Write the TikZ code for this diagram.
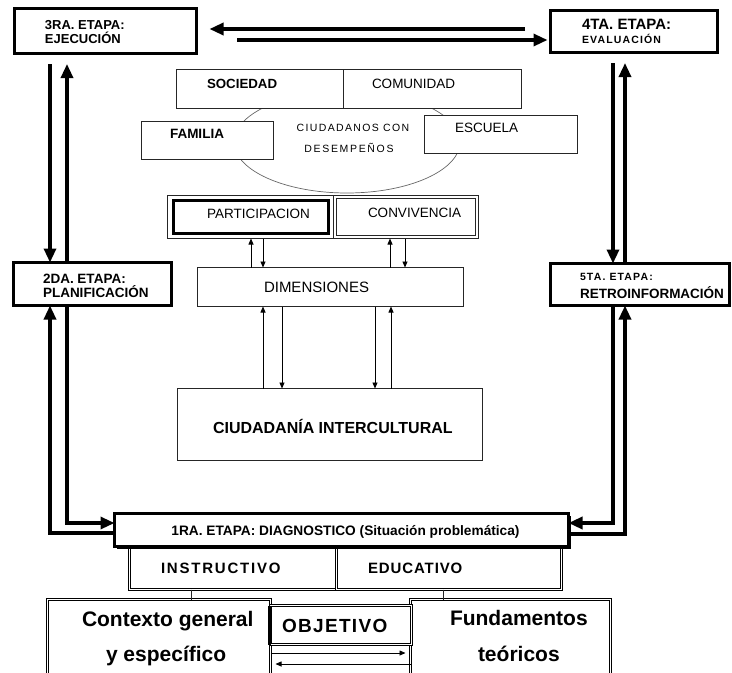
\documentclass[tikz,border=0pt]{standalone}
\usepackage{fontspec}
\setmainfont{Liberation Sans}
\usetikzlibrary{arrows.meta,calc,shadows}
\begin{document}
\begin{tikzpicture}[x=1pt,y=-1pt,
  every node/.style={outer sep=0pt},
  stage/.style={draw, line width=3pt, fill=white, anchor=north west, inner sep=0pt},
  thinbox/.style={draw=black!85, line width=0.9pt, fill=white, anchor=north west, inner sep=0pt},
  dblbox/.style={draw, double, double distance=1.8pt, line width=0.6pt, fill=white, anchor=north west, inner sep=0pt},
  big/.style={line width=3.2pt, line join=miter, -{Triangle[length=14pt,width=12pt]}},
  small/.style={line width=0.8pt, -{Triangle[length=6pt,width=5pt]}},
  txt/.style={inner sep=0pt, anchor=base west},
  ctxt/.style={inner sep=0pt, anchor=base},
]
\useasboundingbox (0,0) rectangle (732,673);
\clip (0,0) rectangle (732,673);

% helper columns and rows
\coordinate (cL1) at (50,0);  \coordinate (cL2) at (67,0);
\coordinate (cR1) at (613,0); \coordinate (cR2) at (625,0);
\coordinate (cA) at (251,0);  \coordinate (cB) at (263,0);
\coordinate (cC) at (390,0);  \coordinate (cD) at (405,0);
\coordinate (cE) at (263,0);  \coordinate (cF) at (282,0);
\coordinate (cG) at (375,0);  \coordinate (cH) at (391,0);
\coordinate (cI) at (191,0);  \coordinate (cJ) at (443,0);
\coordinate (rTop) at (0,64); \coordinate (rTopR) at (0,63);
\coordinate (rA) at (0,523);  \coordinate (rB) at (0,533);
\coordinate (rRa) at (0,523); \coordinate (rRb) at (0,534);
\coordinate (rO1) at (0,653); \coordinate (rO2) at (0,664);
\coordinate (u1) at (525,29); \coordinate (v1) at (237,40);

% ellipse behind the middle boxes
\draw[black!60, line width=0.7pt] (347,142) ellipse [x radius=113, y radius=51];

% middle cluster
\node[thinbox, minimum width=166.5pt, minimum height=39pt] (socA) at (176.5,69.5) {};
\node[thinbox, minimum width=178.5pt, minimum height=39pt] (socB) at (343,69.5) {};
\node[thinbox, minimum width=132pt, minimum height=38pt] (fam) at (141.5,121.5) {};
\node[thinbox, minimum width=153pt, minimum height=38pt] (esc) at (424.5,115.5) {};

\node[txt, font=\fontsize{13.3}{15}\selectfont\bfseries] (tsoc) at (207,88) {SOCIEDAD};
\node[txt, font=\fontsize{13.5}{15}\selectfont] (tcom) at (372,88) {COMUNIDAD};
\node[txt, font=\fontsize{13.5}{15}\selectfont\bfseries] (tfam) at (170,138) {FAMILIA};
\node[txt, font=\fontsize{13.5}{15}\selectfont] (tesc) at (455,132) {ESCUELA};
\node[ctxt, font=\fontsize{10.5}{12}\selectfont\addfontfeatures{LetterSpace=13}] (tciu1) at (353,131) {CIUDADANOS CON};
\node[ctxt, font=\fontsize{10.5}{12}\selectfont\addfontfeatures{LetterSpace=16}] (tciu2) at (349,152) {DESEMPEÑOS};

\node[thinbox, minimum width=165.5pt, minimum height=43pt] (partO) at (167.5,195.5) {};
\node[thinbox, minimum width=145.5pt, minimum height=43pt] (convO) at (333,195.5) {};
\node[stage, minimum width=155pt, minimum height=33pt] (partI) at (173.5,200.5) {};
\node[thinbox, line width=1.2pt, minimum width=139pt, minimum height=37pt] (convI) at (336.5,198.5) {};
\node[txt, font=\fontsize{13.5}{15}\selectfont] (tpart) at (207,218) {PARTICIPACION};
\node[txt, font=\fontsize{13.5}{15}\selectfont] (tconv) at (368,217) {CONVIVENCIA};

\node[thinbox, minimum width=266pt, minimum height=39pt] (dim) at (197.5,267.5) {};
\node[txt, font=\fontsize{15}{17}\selectfont] (tdim) at (264,292) {DIMENSIONES};

\node[thinbox, minimum width=305pt, minimum height=72pt] (ciu) at (177.5,388.5) {};
\node[txt, font=\fontsize{16}{18}\selectfont\bfseries] (tciud) at (213,433) {CIUDADANÍA INTERCULTURAL};

% small arrows
\draw[small] (dim.north -| cA) -- (partO.south -| cA);
\draw[small] (partO.south -| cB) -- (dim.north -| cB);
\draw[small] (dim.north -| cC) -- (convO.south -| cC);
\draw[small] (convO.south -| cD) -- (dim.north -| cD);
\draw[small] (ciu.north -| cE) -- (dim.south -| cE);
\draw[small] (dim.south -| cF) -- (ciu.north -| cF);
\draw[small] (dim.south -| cG) -- (ciu.north -| cG);
\draw[small] (ciu.north -| cH) -- (dim.south -| cH);

% bottom boxes
\node[dblbox, minimum width=207pt, minimum height=42pt] (instr) at (129.5,547.5) {};
\node[dblbox, minimum width=225pt, minimum height=42pt] (edu) at (336.5,547.5) {};
\node[txt, font=\fontsize{15}{17}\selectfont\bfseries\addfontfeatures{LetterSpace=12}] (tins) at (161,573) {INSTRUCTIVO};
\node[txt, font=\fontsize{15}{17}\selectfont\bfseries\addfontfeatures{LetterSpace=6}] (tedu) at (368,573) {EDUCATIVO};

\node[dblbox, minimum width=223pt, minimum height=100pt] (ctx) at (47.5,599.5) {};
\node[dblbox, minimum width=200pt, minimum height=100pt] (fund) at (410.5,599.5) {};
\node[dblbox, minimum width=141pt, minimum height=39pt] (obj) at (270.5,605.5) {};
\draw[line width=2.6pt] ([xshift=-1pt]obj.north west) -- ([xshift=-1pt]obj.south west);

\node[txt, font=\fontsize{21}{24}\selectfont\bfseries] (tctx1) at (82,626) {Contexto general};
\node[txt, font=\fontsize{21}{24}\selectfont\bfseries] (tctx2) at (106,661) {y específico};
\node[txt, font=\fontsize{19}{22}\selectfont\bfseries\addfontfeatures{LetterSpace=7}] (tobj) at (282,632) {OBJETIVO};
\node[txt, font=\fontsize{21}{24}\selectfont\bfseries] (tfun1) at (450,625) {Fundamentos};
\node[txt, font=\fontsize{21}{24}\selectfont\bfseries] (tfun2) at (478,661) {teóricos};

\draw[black!85, line width=0.9pt] (instr.south -| cI) -- (ctx.north -| cI);
\draw[black!85, line width=0.9pt] (edu.south -| cJ) -- (fund.north -| cJ);
\draw[small, shorten >=5pt] (ctx.east |- rO1) -- (fund.west |- rO1);
\draw[small, shorten >=5pt] (fund.west |- rO2) -- (ctx.east |- rO2);

% stage boxes
\node[stage, minimum width=182pt, minimum height=45pt] (s3) at (14.5,8.5) {};
\node[stage, minimum width=167pt, minimum height=42pt] (s4) at (550.5,10.5) {};
\node[stage, minimum width=158pt, minimum height=43pt] (s2) at (13.5,262.5) {};
\node[stage, minimum width=179pt, minimum height=42pt] (s5) at (550.5,263.5) {};
\node[stage, minimum width=454pt, minimum height=33pt,
      drop shadow={shadow xshift=2pt, shadow yshift=-2.5pt, fill=black, opacity=1}] (s1) at (114.5,513.5) {};

\node[txt, font=\fontsize{13}{15}\selectfont\bfseries] (t3a) at (45,29.5) {3RA. ETAPA:};
\node[txt, font=\fontsize{13}{15}\selectfont\bfseries] (t3b) at (45,43) {EJECUCIÓN};
\node[txt, font=\fontsize{15}{17}\selectfont\bfseries] (t4a) at (582,29) {4TA. ETAPA:};
\node[txt, font=\fontsize{10.5}{12}\selectfont\bfseries\addfontfeatures{LetterSpace=11}] (t4b) at (582,43.5) {EVALUACIÓN};
\node[txt, font=\fontsize{13.5}{15}\selectfont\bfseries] (t2a) at (43,283) {2DA. ETAPA:};
\node[txt, font=\fontsize{13.5}{15}\selectfont\bfseries] (t2b) at (43,297) {PLANIFICACIÓN};
\node[txt, font=\fontsize{10.5}{12}\selectfont\bfseries\addfontfeatures{LetterSpace=11}] (t5a) at (580,280) {5TA. ETAPA:};
\node[txt, font=\fontsize{13.5}{15}\selectfont\bfseries] (t5b) at (580,298) {RETROINFORMACIÓN};
\node[ctxt, font=\fontsize{13.7}{15}\selectfont\bfseries] (t1) at (345.5,535) {1RA. ETAPA: DIAGNOSTICO (Situación problemática)};

% big arrows
\draw[big, shorten >=13pt] (u1) -- (s3.east |- u1);
\draw[big, shorten >=3pt] (v1) -- (s4.west |- v1);
\draw[big] (cL1 |- rTop) -- (s2.north -| cL1);
\draw[big] (s2.north -| cL2) -- (cL2 |- rTop);
\draw[big] (cR1 |- rTopR) -- (s5.north -| cR1);
\draw[big] (s5.north -| cR2) -- (cR2 |- rTopR);
\draw[big] (s1.west |- rB) -| (s2.south -| cL1);
\draw[big] (s2.south -| cL2) |- (s1.west |- rA);
\draw[big] (s5.south -| cR1) |- (s1.east |- rRa);
\draw[big] (s1.east |- rRb) -| (s5.south -| cR2);
\end{tikzpicture}
\end{document}
